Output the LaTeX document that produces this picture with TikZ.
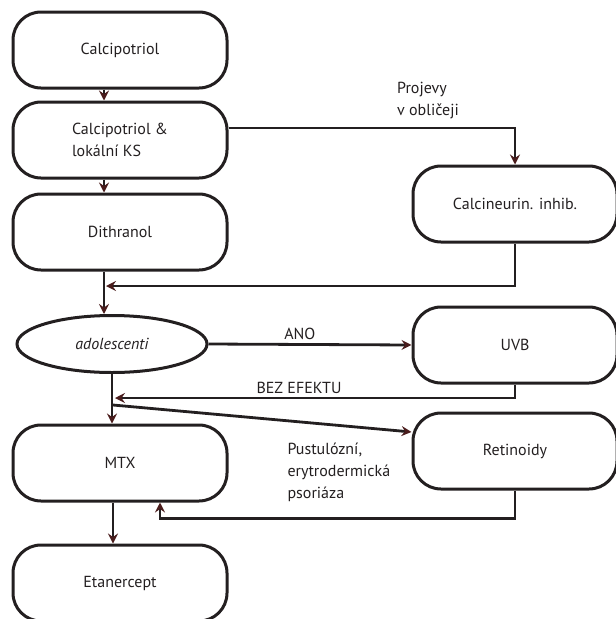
\documentclass[tikz,border=0pt]{standalone}
\usepackage{fontspec}
\setmainfont{PT Sans}
\usetikzlibrary{shapes.geometric}
\usetikzlibrary{positioning}
\usetikzlibrary{arrows.meta}
\usepackage{xcolor}
\definecolor{ink}{HTML}{231F20}
\definecolor{tip}{HTML}{4A1C1C}

\begin{document}
\begin{tikzpicture}[x=1pt, y=-1pt,
    font=\fontsize{16}{22}\selectfont, text=ink,
    box/.style={draw=ink, line width=3pt, rectangle, rounded corners=28pt, minimum width=214pt, minimum height=76pt, align=center},
    sidebox/.style={box, minimum width=204pt},
    oval/.style={draw=ink, line width=3pt, ellipse, inner sep=0pt, minimum width=190pt, minimum height=57pt},
    link/.style={draw=ink, line width=2.8pt, -{Stealth[length=10pt, width=10pt, inset=3.5pt, color=tip]}},
    line/.style={draw=ink, line width=2.8pt}]
            \clip (0,0) rectangle (616,619);

            \node[box] (cal) at (120,50) {Calcipotriol};
            \node[box, align=left] (calks) at (120,140) {Calcipotriol \&\\lokální KS};
            \node[box] (dith) at (120,232) {Dithranol};
            \node[oval, font=\fontsize{16}{22}\selectfont\itshape] (adol) at (112,344) {adolescenti};
            \node[box] (mtx) at (120,463) {MTX};
            \node[box] (etan) at (120,583) {Etanercept};

            \node[sidebox] (calc) at (515,204) {Calcineurin. inhib.};
            \node[sidebox] (uvb) at (515,345) {UVB};
            \node[sidebox] (retin) at (515,451) {Retinoidy};

            \coordinate (back1) at (106,286);
            \coordinate (back2) at (115,398);
            \coordinate (split) at (113,405);

            \draw[link] ([xshift=-16pt]cal.south) -- ([xshift=-16pt]calks.north);
            \draw[link] ([xshift=-16pt]calks.south) -- ([xshift=-16pt]dith.north);
            \draw[link] ([xshift=-16pt]dith.south) -- ([xshift=-16pt]dith.south |- adol.north);
            \draw[link] ([yshift=12pt]calks.east) -| (calc.north);
            \draw[link] (calc.south) |- (back1);
            \draw[link] (adol.east) -- node[above, pos=0.45] {ANO} (uvb.west);
            \draw[link] (adol.south) -- (adol.south |- mtx.north);
            \draw[link] (uvb.south) |- node[above, pos=0.77] {BEZ EFEKTU} (back2);
            \draw[link] (split) -- ([yshift=19pt]retin.west);
            \draw[link] ([xshift=-7pt]mtx.south) -- ([xshift=-7pt]etan.north);
            \draw[link] (retin.south) -- ++(0,28) -| ([xshift=40pt]mtx.south);

            \node[align=left] (face) at (428,101) {Projevy\\v obličeji};
            \node[anchor=west, align=left] (pust) at (284,472) {Pustulózní,\\erytrodermická\\psoriáza};
        \end{tikzpicture}
\end{document}
